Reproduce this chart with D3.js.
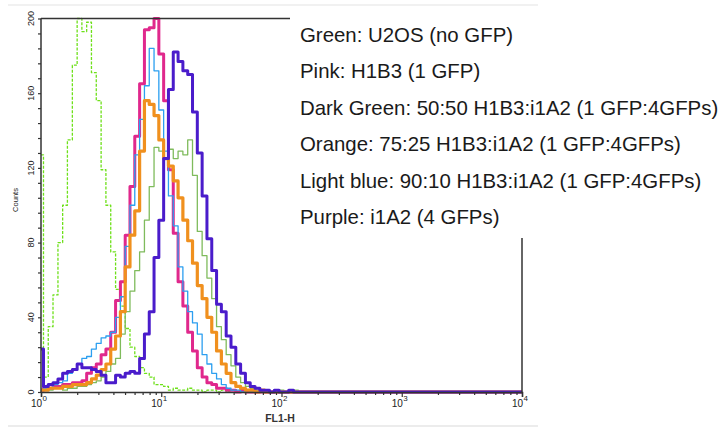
<!DOCTYPE html>
<html>
<head>
<meta charset="utf-8">
<script src="https://cdn.jsdelivr.net/npm/d3@7/dist/d3.min.js"></script>
<style>
  body { margin: 0; background: #fff; }
  svg { display: block; font-family: "Liberation Sans", Arial, sans-serif; }
</style>
</head>
<body>
<svg id="chart"></svg>
<script>
const width = 728;
const height = 430;

// FL1-H channel positions (log spaced), last one is the end of the scale
const fl1h = [1.00, 1.10, 1.20, 1.32, 1.45, 1.58, 1.74, 1.91, 2.09, 2.29,
  2.51, 2.75, 3.02, 3.31, 3.63, 3.98, 4.37, 4.79, 5.25, 5.75,
  6.31, 6.92, 7.59, 8.32, 9.12, 10.0, 10.96, 12.02, 13.18, 14.45,
  15.85, 17.38, 19.05, 20.89, 22.91, 25.12, 27.54, 30.20, 33.11, 36.31,
  39.81, 43.65, 47.86, 52.48, 57.54, 63.10, 69.18, 75.86, 83.18, 91.20,
  100, 109.6, 120.2, 131.8, 144.5, 158.5, 173.8, 190.5, 208.9, 229.1,
  251.2, 10000];

// counts
const u2os = [127, 8, 35, 52, 80, 100, 135, 175, 200, 193,
  198, 171, 156, 119, 100, 75, 55, 46, 34, 24,
  19, 13, 10, 8, 4, 4, 3, 1, 2, 1,
  1, 2, 1, 1, 0, 1, 1, 0, 1, 0,
  1, 0, 0, 1, 0, 1, 0, 0, 0, 0,
  0, 0, 0, 0, 0, 0, 0, 0, 0, 0,
  0, 0];
const h1b3 = [1, 2, 2, 3, 3, 4, 4, 5, 5, 6,
  10, 13, 15, 20, 23, 32, 49, 59, 84, 110,
  137, 165, 194, 195, 200, 181, 156, 119, 85, 59,
  46, 32, 22, 13, 8, 5, 4, 2, 2, 1,
  1, 0, 1, 0, 0, 0, 0, 0, 0, 0,
  0, 0, 0, 0, 0, 0, 0, 0, 0, 0,
  0, 0];
const mix5050 = [1, 1, 1, 2, 2, 1, 2, 2, 3, 3,
  4, 5, 6, 8, 11, 15, 18, 31, 43, 54,
  65, 75, 92, 110, 131, 129, 125, 130, 125, 129,
  127, 135, 116, 86, 73, 61, 50, 35, 28, 20,
  14, 8, 5, 3, 2, 1, 1, 1, 0, 1,
  1, 0, 0, 1, 0, 0, 0, 0, 0, 0,
  0, 0];
const mix7525 = [1, 1, 2, 2, 2, 3, 3, 4, 4, 4,
  5, 7, 9, 12, 15, 23, 30, 43, 67, 84,
  97, 129, 156, 154, 148, 135, 125, 121, 113, 104,
  92, 81, 69, 57, 50, 40, 32, 22, 15, 10,
  5, 3, 2, 1, 1, 0, 1, 0, 0, 0,
  0, 0, 0, 0, 0, 0, 0, 0, 0, 0,
  0, 0];
const mix9010 = [1, 2, 2, 4, 5, 6, 10, 12, 15, 18,
  19, 23, 26, 29, 30, 32, 40, 51, 78, 100,
  127, 146, 164, 184, 172, 151, 129, 105, 89, 67,
  54, 43, 37, 31, 20, 15, 10, 7, 4, 2,
  1, 1, 0, 1, 0, 0, 0, 0, 0, 0,
  0, 0, 0, 0, 0, 0, 0, 0, 0, 0,
  0, 0];
const i1a2 = [23, 3, 4, 5, 7, 10, 11, 12, 15, 13,
  13, 12, 11, 9, 5, 5, 9, 8, 10, 11,
  10, 18, 31, 43, 72, 92, 125, 162, 182, 177,
  172, 170, 150, 128, 105, 82, 65, 47, 43, 30,
  24, 15, 10, 5, 3, 2, 1, 1, 0, 1,
  0, 0, 1, 0, 0, 0, 0, 0, 0, 0,
  0, 0];

const legendLines = [
  "Green: U2OS (no GFP)",
  "Pink: H1B3 (1 GFP)",
  "Dark Green: 50:50 H1B3:i1A2 (1 GFP:4GFPs)",
  "Orange: 75:25 H1B3:i1A2 (1 GFP:4GFPs)",
  "Light blue: 90:10 H1B3:i1A2 (1 GFP:4GFPs)",
  "Purple: i1A2 (4 GFPs)"
];
const yMajor = [0, 40, 80, 120, 160, 200];
const xDecades = [1, 10, 100, 1000, 10000];
const xExponents = ["0", "1", "2", "3", "4"];

// drawing order: back to front
const series = [
  { values: u2os, color: "#6ee01a", w: 1.3, dash: "3,1.5" },
  { values: h1b3, color: "#e0288c", w: 3 },
  { values: mix9010, color: "#2c9ff0", w: 1.3 },
  { values: mix5050, color: "#7fbb5c", w: 1.3 },
  { values: mix7525, color: "#f0901e", w: 3.2 },
  { values: i1a2, color: "#4a1ccb", w: 3 }
];

const svg = d3.select('svg#chart').attr('width', width).attr('height', height);

const x = d3.scaleLog().domain([1, 10000]).range([41, 522]);
const y = d3.scaleLinear().domain([0, 200]).range([392, 18.5]);

// faint page border
svg.append('line').attr('x1', 8).attr('x2', 538).attr('y1', 5).attr('y2', 5)
  .attr('stroke', '#ececec').attr('stroke-width', 1.5);
svg.append('line').attr('x1', 8).attr('x2', 538).attr('y1', 426).attr('y2', 426)
  .attr('stroke', '#ececec').attr('stroke-width', 2);

// curves
const line = d3.line()
  .x((d, i) => x(fl1h[i]))
  .y(d => y(d))
  .curve(d3.curveStep);

svg.append('g').selectAll('path').data(series).enter().append('path')
  .attr('d', d => line(d.values))
  .attr('fill', 'none')
  .attr('stroke', d => d.color)
  .attr('stroke-width', d => d.w)
  .attr('stroke-dasharray', d => d.dash || null)
  .attr('stroke-linejoin', 'round');

// frame
const frame = svg.append('g').attr('stroke', '#333').attr('stroke-width', 1.5);
frame.append('line').attr('x1', x(1)).attr('x2', x(1)).attr('y1', y(200)).attr('y2', y(0));
frame.append('line').attr('x1', x(1)).attr('x2', x(10000)).attr('y1', y(200)).attr('y2', y(200));
frame.append('line').attr('x1', x(10000)).attr('x2', x(10000)).attr('y1', y(200)).attr('y2', y(0));

// y axis
const yAxis = d3.axisLeft(y).tickValues(d3.range(0, 201, 8)).tickSize(3).tickFormat('');
const gy = svg.append('g').attr('transform', 'translate(' + x(1) + ',0)').call(yAxis);
gy.select('.domain').remove();
gy.selectAll('line').attr('stroke', '#333').attr('stroke-width', 1.2);

svg.append('g').selectAll('text').data(yMajor).enter().append('text')
  .attr('transform', d => 'translate(34,' + y(d) + ') rotate(-90)')
  .attr('text-anchor', 'middle')
  .attr('font-size', 9)
  .attr('fill', '#222')
  .text(d => d);

svg.append('text')
  .attr('transform', 'translate(18,' + 200 + ') rotate(-90)')
  .attr('text-anchor', 'middle')
  .attr('font-size', 7.5)
  .attr('fill', '#222')
  .text('Counts');

// x axis, log ticks
const minor = [];
xDecades.slice(0, 4).forEach(dec => { for (let m = 2; m <= 9; m++) minor.push(dec * m); });
const gxMinor = svg.append('g').attr('transform', 'translate(0,' + y(0) + ')')
  .call(d3.axisBottom(x).tickValues(minor).tickSize(3).tickFormat(''));
gxMinor.select('.domain').remove();
gxMinor.selectAll('line').attr('stroke', '#333').attr('stroke-width', 1.2);
const gx = svg.append('g').attr('transform', 'translate(0,' + y(0) + ')')
  .call(d3.axisBottom(x).tickValues(xDecades).tickSize(5).tickFormat(''));
gx.select('.domain').attr('stroke', '#333').attr('stroke-width', 1.5);
gx.selectAll('line').attr('stroke', '#333').attr('stroke-width', 1.2);

svg.append('g').selectAll('text').data(xDecades).enter().append('text')
  .attr('x', d => x(d) + 1)
  .attr('y', 407)
  .attr('text-anchor', 'end')
  .attr('font-size', 10)
  .attr('fill', '#222')
  .text('10');
svg.append('g').selectAll('text').data(xDecades).enter().append('text')
  .attr('x', d => x(d) + 1.5)
  .attr('y', 400.5)
  .attr('font-size', 8)
  .attr('fill', '#222')
  .text((d, i) => xExponents[i]);

svg.append('text')
  .attr('x', 280).attr('y', 422)
  .attr('text-anchor', 'middle')
  .attr('font-size', 10.5)
  .attr('font-weight', 'bold')
  .attr('fill', '#333')
  .text('FL1-H');

// legend covers the upper right of the frame
svg.append('rect').attr('x', 290).attr('y', 10).attr('width', 438).attr('height', 228)
  .attr('fill', '#fff');

svg.append('g').selectAll('text').data(legendLines).enter().append('text')
  .attr('x', 300)
  .attr('y', (d, i) => 42 + i * 36.4)
  .attr('font-size', 20.4)
  .attr('fill', '#1a1a1a')
  .text(d => d);
</script>
</body>
</html>
